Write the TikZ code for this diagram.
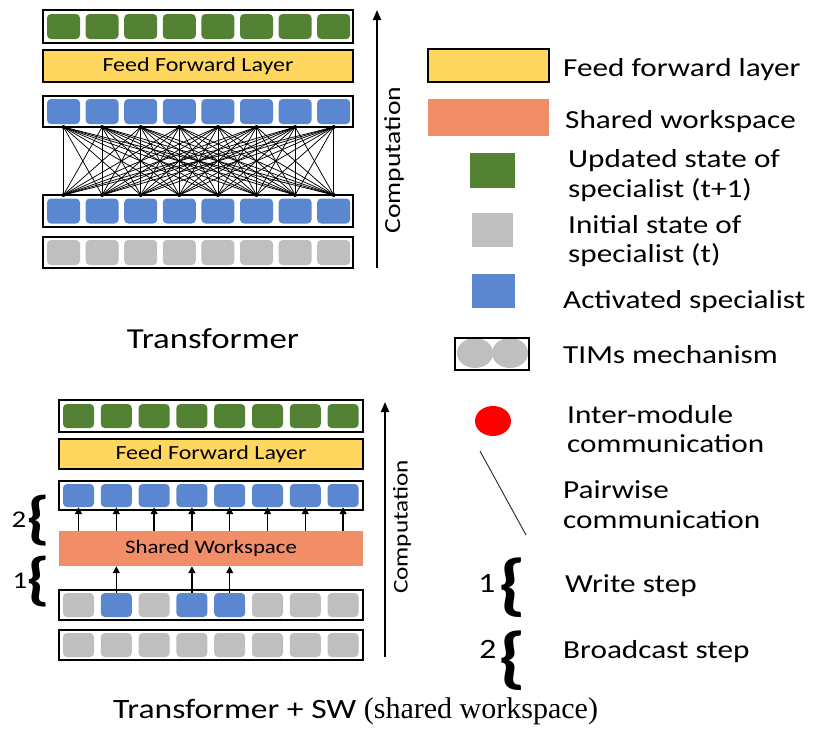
\documentclass[tikz,border=0pt]{standalone}
\usepackage{fontspec}
\setmainfont{Carlito}[FakeStretch=1.2]
\newfontfamily\timesfont{Liberation Serif}
\usetikzlibrary{arrows.meta}
\definecolor{updgreen}{RGB}{84,130,53}
\definecolor{actblue}{RGB}{91,134,208}
\definecolor{initgray}{RGB}{191,191,191}
\definecolor{ffyellow}{RGB}{255,215,95}
\definecolor{swsalmon}{RGB}{241,142,104}

\begin{document}
\begin{tikzpicture}[x=1pt,y=-1pt,
	sq/.style={rounded corners=4pt,minimum width=33pt,minimum height=25pt,inner sep=0pt},
	sqb/.style={sq,minimum width=31pt,minimum height=24pt},
	rowline/.style={line width=1.6pt},
	layer/.style={draw,line width=1.6pt,fill=ffyellow,inner sep=0pt,font=\fontsize{20}{22}\selectfont},
	lg/.style={anchor=base west,inner sep=0pt,font=\fontsize{26}{30}\selectfont},
	up/.style={-{Triangle[length=7pt,width=7pt]},line width=1.4pt},
	bigup/.style={-{Triangle[length=10pt,width=8pt]},line width=1.8pt},
	curly/.style={inner sep=0pt,font=\bfseries\fontsize{#1}{#1}\selectfont},
	stepno/.style={anchor=base,inner sep=0pt,font=\fontsize{#1}{#1}\selectfont},
	comp/.style={rotate=90,inner sep=0pt}]
	\useasboundingbox (0,0) rectangle (819,729);
	% Transformer
	\draw[rowline] (43,10) rectangle (353,43);
	\foreach \i in {1,...,8}
		\node[sq,fill=updgreen] (ga\i) at ({63.5+(\i-1)*38.6},26.5) {};
	\node[layer,minimum width=310pt,minimum height=32pt] (ffa) at (198,66) {Feed Forward Layer};
	\draw[rowline] (43,96) rectangle (353,127);
	\foreach \i in {1,...,8}
		\node[sq,fill=actblue] (ua\i) at ({63.5+(\i-1)*38.6},111.5) {};
	\draw[rowline] (43,195) rectangle (353,227);
	\foreach \i in {1,...,8}
		\node[sq,fill=actblue] (ub\i) at ({63.5+(\i-1)*38.6},211) {};
	\draw[rowline] (43,237) rectangle (353,268);
	\foreach \i in {1,...,8}
		\node[sq,fill=initgray] (ia\i) at ({63.5+(\i-1)*38.6},252.5) {};
	\foreach \i in {1,...,8}{
		\path (ua\i) ++(0,15.5) coordinate (pa\i);
		\path (ub\i) ++(0,-16) coordinate (pb\i);
	}
	\foreach \i in {1,...,8}
		\foreach \j in {1,...,8}
			\draw[line width=0.75pt] (pa\i) -- (pb\j);
	\foreach \i in {1,...,8}{
		\fill (pa\i) circle (2);
		\fill (pb\i) circle (2);
	}
	\coordinate (ca0) at (377,268);
	\coordinate (ca1) at (377,10);
	\draw[bigup] (ca0) -- (ca1);
	\node[comp,font=\fontsize{23}{25}\selectfont] (compa) at (394,160) {Computation};
	\node[anchor=base,font=\fontsize{29}{32}\selectfont] (tra) at (213,348) {Transformer};
	% Transformer + SW
	\draw[rowline] (59,400) rectangle (363,432);
	\foreach \i in {1,...,8}
		\node[sqb,fill=updgreen] (gb\i) at ({78.5+(\i-1)*37.8},416) {};
	\node[layer,minimum width=304pt,minimum height=30pt] (ffb) at (211,454) {Feed Forward Layer};
	\draw[rowline] (59,481) rectangle (363,510);
	\foreach \i in {1,...,8}
		\node[sqb,minimum height=23pt,fill=actblue] (uc\i) at ({78.5+(\i-1)*37.8},495.5) {};
	\node[fill=swsalmon,minimum width=304pt,minimum height=35pt,inner sep=0pt,font=\fontsize{19}{21}\selectfont] (sw) at (211,548.5) {Shared Workspace};
	\draw[rowline] (59,590) rectangle (363,620);
	\foreach \c [count=\i] in {initgray,actblue,initgray,actblue,actblue,initgray,initgray,initgray}
		\node[sqb,fill=\c] (mb\i) at ({78.5+(\i-1)*37.8},605) {};
	\draw[rowline] (59,630) rectangle (363,660);
	\foreach \i in {1,...,8}
		\node[sqb,fill=initgray] (ib\i) at ({78.5+(\i-1)*37.8},645) {};
	\foreach \i in {1,...,8}
		\draw[up] (sw.north -| uc\i) -- (uc\i.south);
	\foreach \i in {2,4,5}
		\draw[up] (mb\i.north) -- (sw.south -| mb\i);
	\coordinate (cb0) at (385,657);
	\coordinate (cb1) at (385,402);
	\draw[bigup] (cb0) -- (cb1);
	\node[comp,font=\fontsize{21}{23}\selectfont] (compb) at (402,527) {Computation};
	\node[stepno=24] (nb2) at (19,527) {2};
	\node[curly=58] (bb2) at (38,521) {\{};
	\node[stepno=24] (nb1) at (20,588) {1};
	\node[curly=58] (bb1) at (38,582) {\{};
	\node[anchor=base west,inner sep=0pt,font=\fontsize{28}{30}\selectfont] (trb) at (113,718) {Transformer + SW {\timesfont\fontsize{30}{32}\selectfont (shared workspace)}};
	% legend
	\node[draw,line width=1.6pt,fill=ffyellow,minimum width=121pt,minimum height=33pt,inner sep=0pt] (kff) at (488.5,65.5) {};
	\node[lg] (tff) at (563,76) {Feed forward layer};
	\node[fill=swsalmon,minimum width=121pt,minimum height=37pt,inner sep=0pt] (ksw) at (488.5,117.5) {};
	\node[lg] (tsw) at (565,128) {Shared workspace};
	\node[fill=updgreen,minimum width=45pt,minimum height=35pt,inner sep=0pt] (kup) at (492.5,170.5) {};
	\node[lg] (tup1) at (568,167) {Updated state of};
	\node[lg] (tup2) at (568,197) {specialist (t+1)};
	\node[fill=initgray,minimum width=41pt,minimum height=34pt,inner sep=0pt] (kin) at (492.5,230) {};
	\node[lg] (tin1) at (568,233) {Initial state of};
	\node[lg] (tin2) at (568,262) {specialist (t)};
	\node[fill=actblue,minimum width=43pt,minimum height=34pt,inner sep=0pt] (kac) at (493.5,291) {};
	\node[lg] (tac) at (563,308) {Activated specialist};
	\begin{scope}
		\clip (455,338) rectangle (529,370);
		\fill[initgray] (475,353) ellipse [x radius=18,y radius=15];
		\fill[initgray] (510,353) ellipse [x radius=18,y radius=15];
	\end{scope}
	\node[draw,line width=1.8pt,minimum width=74pt,minimum height=32pt,inner sep=0pt] (ktm) at (492,354) {};
	\node[lg] (ttm) at (563,363) {TIMs mechanism};
	\fill[red] (493,421) ellipse [x radius=18,y radius=15];
	\node[lg] (tim1) at (567,423) {Inter-module};
	\node[lg] (tim2) at (567,452) {communication};
	\draw[line width=0.9pt,black!85] (480,451) -- (526,535);
	\node[lg] (tpw1) at (563,498) {Pairwise};
	\node[lg] (tpw2) at (563,528) {communication};
	\node[stepno=28] (kn1) at (487,592) {1};
	\node[curly=68] (kb1) at (513,588) {\{};
	\node[lg] (tws) at (565,592) {Write step};
	\node[stepno=28] (kn2) at (488,658) {2};
	\node[curly=68] (kb2) at (513,661) {\{};
	\node[lg] (tbs) at (563,658) {Broadcast step};
\end{tikzpicture}
\end{document}
